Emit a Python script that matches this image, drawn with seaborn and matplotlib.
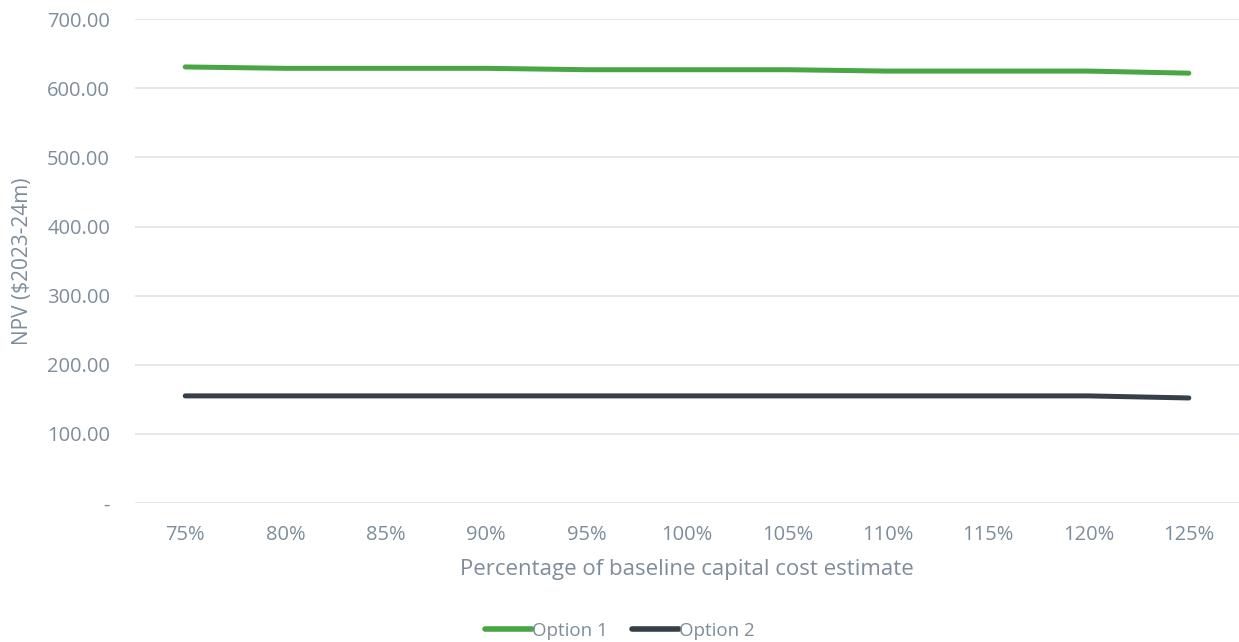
import pandas as pd
import seaborn as sns
from matplotlib import pyplot as plt

# données
pct_labels = ["75%", "80%", "85%", "90%", "95%", "100%", "105%", "110%", "115%", "120%", "125%"]
option_1 = [631, 629, 629, 629, 627, 627, 627, 625, 625, 625, 622]
option_2 = [155, 155, 155, 155, 155, 155, 155, 155, 155, 155, 152]
series_names = ["Option 1", "Option 2"]
line_colors = ["#4aa543", "#363f48"]

text_color = "#7d8d9b"
grid_color = "#dfe4ea"

data = pd.DataFrame({
    "pct": pct_labels * 2,
    "npv": option_1 + option_2,
    "serie": [series_names[0]] * len(pct_labels) + [series_names[1]] * len(pct_labels),
})

sns.set_theme(style="white")
plt.rcParams['font.family'] = ['Open Sans', 'DejaVu Sans']

fig, ax = plt.subplots(figsize=(12.39, 6.42), dpi=100)
fig.subplots_adjust(left=0.109, right=1.0, top=0.970, bottom=0.2165)

sns.lineplot(data=data, x="pct", y="npv", hue="serie", palette=line_colors,
             sort=False, linewidth=3.6, solid_capstyle="round", ax=ax, legend=False)

# axes
ax.set_xlim(-0.5, len(pct_labels) - 0.5)
ax.set_ylim(0, 700)
ax.set_yticks(range(0, 701, 100))
ax.set_yticklabels(["-"] + [f"{v:.2f}" for v in range(100, 701, 100)])
ax.yaxis.grid(True, color=grid_color, linewidth=1.2)
ax.set_axisbelow(True)
for s in ax.spines.values():
    s.set_visible(False)
ax.tick_params(axis="both", colors=text_color, labelsize=14.5, length=0)
ax.tick_params(axis="x", pad=16)
ax.tick_params(axis="y", pad=18)

ax.set_xlabel("Percentage of baseline capital cost estimate", color=text_color, fontsize=16, labelpad=10)
ax.set_ylabel("NPV (\\$2023-24m)", color=text_color, fontsize=15, labelpad=10)

# légende en bas
handles = [plt.Line2D([], [], color=c, linewidth=4) for c in line_colors]
fig.legend(handles, series_names, loc="center", bbox_to_anchor=(0.5, 1 - 631 / 642), ncol=2,
           frameon=False, fontsize=13.5, labelcolor=text_color, handlelength=2.5,
           handletextpad=0.0, columnspacing=1.3)

plt.savefig("out.png", dpi=100)
